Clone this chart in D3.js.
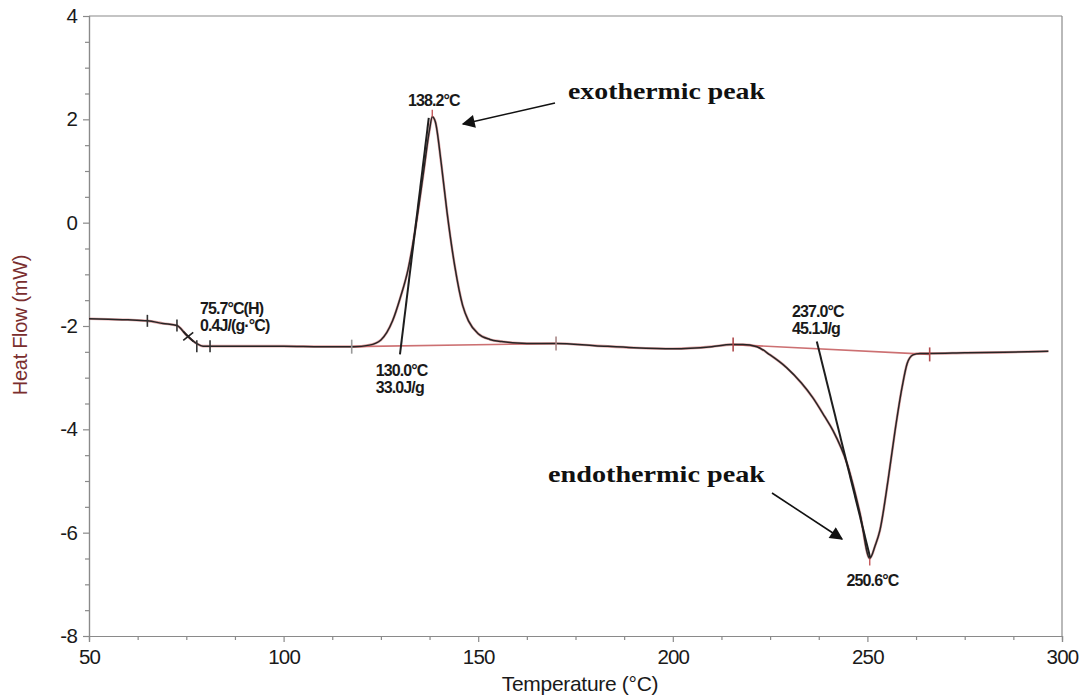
<!DOCTYPE html>
<html>
<head>
<meta charset="utf-8">
<script src="https://cdn.jsdelivr.net/npm/d3@7"></script>
<style>
  html, body { margin: 0; padding: 0; background: #fff; }
  svg { display: block; }
</style>
</head>
<body>
<svg id="chart" width="1085" height="696"></svg>
<script>
// ---- data ----
const temps = [50, 55, 60, 65, 69, 72.6, 75.2, 77.7, 79.3, 85, 100, 110, 118, 122, 125, 128, 130, 132, 134, 136, 137.5, 138.2, 139, 140.5, 142, 144, 146, 147.5, 150, 153, 156, 160, 165, 170, 180, 190, 200, 210, 215, 218, 221.6, 225, 229.3, 233, 236, 239, 241.2, 244.8, 248.1, 250.6, 252, 253.2, 255.3, 257.1, 258.9, 260.2, 261.7, 263.5, 266, 275, 285, 296.5];
const heatFlow = [-1.86, -1.87, -1.88, -1.90, -1.95, -1.99, -2.19, -2.34, -2.39, -2.39, -2.39, -2.40, -2.40, -2.37, -2.27, -1.90, -1.45, -0.90, -0.05, 1.0, 1.8, 2.05, 1.95, 1.15, 0.20, -0.85, -1.60, -1.90, -2.15, -2.26, -2.30, -2.33, -2.34, -2.34, -2.38, -2.42, -2.44, -2.40, -2.36, -2.36, -2.40, -2.56, -2.81, -3.10, -3.39, -3.75, -4.03, -4.67, -5.63, -6.50, -6.25, -5.96, -4.99, -4.03, -3.19, -2.73, -2.56, -2.53, -2.53, -2.52, -2.51, -2.49];

const xMajorTicks = [50, 100, 150, 200, 250, 300];
const yMajorTicks = [-8, -6, -4, -2, 0, 2, 4];

// integration baselines (red) [T1, HF1, T2, HF2]
const exoBaseline = [117.5, -2.40, 170, -2.34];
const endoBaseline = [215.5, -2.36, 266, -2.55];
// onset tangents [T1, HF1, T2, HF2]
const exoTangent = [129.9, -2.55, 137.3, 2.03];
const endoTangent = [237.0, -2.30, 250.7, -6.48];
// analysis limit marks (temperature, heat flow)
const glassMarks = [[65.0, -1.90], [72.6, -1.99], [77.7, -2.39], [81.1, -2.39]];
const glassPoint = [75.5, -2.2];

// data labels
const labelLines = [
  {T: 138.6, HF: 2.26, lines: ["138.2°C"], anchor: "middle"},
  {T: 123.7, HF: -2.96, lines: ["130.0°C", "33.0J/g"], anchor: "start"},
  {T: 78.5, HF: -1.76, lines: ["75.7°C(H)", "0.4J/(g·°C)"], anchor: "start"},
  {T: 230.6, HF: -1.82, lines: ["237.0°C", "45.1J/g"], anchor: "start"},
  {T: 251.3, HF: -7.03, lines: ["250.6°C"], anchor: "middle"}
];

// ---- layout ----
const svg = d3.select("#chart");
const x = d3.scaleLinear().domain([50, 300]).range([89, 1062]);
const y = d3.scaleLinear().domain([-8, 4]).range([636, 16]);

const axisColor = "#8a8a8a";
const fontNarrow = '"Liberation Sans Narrow", "Arial Narrow", "Liberation Sans", Arial, sans-serif';

// frame (top & right)
svg.append("line").attr("x1", x(50)).attr("x2", x(300)).attr("y1", y(4)).attr("y2", y(4)).attr("stroke", axisColor).attr("stroke-width", 1.2);
svg.append("line").attr("x1", x(300)).attr("x2", x(300)).attr("y1", y(4)).attr("y2", y(-8)).attr("stroke", axisColor).attr("stroke-width", 1.2);

// minor ticks
const xMinor = d3.range(50, 300.01, 12.5).filter(v => !xMajorTicks.includes(v));
const yMinor = d3.range(-8, 4.01, 0.5).filter(v => !yMajorTicks.includes(v));

const gxMinor = svg.append("g").attr("transform", `translate(0,${y(-8)})`)
  .call(d3.axisBottom(x).tickValues(xMinor).tickSize(4).tickFormat(""));
const gyMinor = svg.append("g").attr("transform", `translate(${x(50)},0)`)
  .call(d3.axisLeft(y).tickValues(yMinor).tickSize(4).tickFormat(""));

const gx = svg.append("g").attr("transform", `translate(0,${y(-8)})`)
  .call(d3.axisBottom(x).tickValues(xMajorTicks).tickSize(6).tickPadding(7).tickFormat(d => String(d)));
const gy = svg.append("g").attr("transform", `translate(${x(50)},0)`)
  .call(d3.axisLeft(y).tickValues(yMajorTicks).tickSize(6).tickPadding(6).tickFormat(d => String(d)));

[gxMinor, gyMinor, gx, gy].forEach(g => {
  g.select(".domain").attr("stroke", axisColor).attr("stroke-width", 1.2);
  g.selectAll(".tick line").attr("stroke", axisColor).attr("stroke-width", 1.2);
  g.selectAll(".tick text").attr("fill", "#1a1a1a").attr("font-size", 20.5).style("font-family", fontNarrow).attr("letter-spacing", "-0.8px");
});

// axis titles
svg.append("text").attr("x", 580).attr("y", 691).attr("text-anchor", "middle")
  .attr("font-family", fontNarrow).attr("font-size", 21).attr("letter-spacing", "-0.3px").attr("fill", "#1a1a1a")
  .text("Temperature (°C)");
svg.append("text").attr("transform", "translate(27,325) rotate(-90)").attr("text-anchor", "middle")
  .attr("font-family", fontNarrow).attr("font-size", 20).attr("letter-spacing", "-0.3px").attr("fill", "#7a2e2e")
  .text("Heat Flow (mW)");

// ---- data curve ----
const pts = temps.map((t, i) => [t, heatFlow[i]]);
const line = d3.line().x(d => x(d[0])).y(d => y(d[1])).curve(d3.curveMonotoneX);

// red baselines
const redColor = "#c4585a";
[exoBaseline, endoBaseline].forEach(b => {
  svg.append("line").attr("x1", x(b[0])).attr("y1", y(b[1])).attr("x2", x(b[2])).attr("y2", y(b[3]))
    .attr("stroke", redColor).attr("stroke-width", 1.6).attr("opacity", 0.85);
});

// red underlay curve and black curve
svg.append("path").datum(pts).attr("d", line).attr("fill", "none").attr("stroke", redColor).attr("stroke-width", 2.6).attr("opacity", 0.55);
svg.append("path").datum(pts).attr("d", line).attr("fill", "none").attr("stroke", "#262626").attr("stroke-width", 1.5);

// tangents
[exoTangent, endoTangent].forEach(b => {
  svg.append("line").attr("x1", x(b[0])).attr("y1", y(b[1])).attr("x2", x(b[2])).attr("y2", y(b[3]))
    .attr("stroke", "#1e1e1e").attr("stroke-width", 2);
});

// limit marks
function vmark(T, HF, color, h) {
  svg.append("line").attr("x1", x(T)).attr("x2", x(T)).attr("y1", y(HF) - h).attr("y2", y(HF) + h)
    .attr("stroke", color).attr("stroke-width", 1.6);
}
glassMarks.forEach(m => vmark(m[0], m[1], "#333", 6));
vmark(exoBaseline[0], exoBaseline[1], "#999", 7);
vmark(exoBaseline[2], exoBaseline[3], "#a88", 7);
vmark(endoBaseline[0], endoBaseline[1], "#b04a4c", 7);
vmark(endoBaseline[2], endoBaseline[3], "#b04a4c", 7);
// peak marks
svg.append("line").attr("x1", x(138.2)).attr("x2", x(138.2)).attr("y1", y(2.05) - 7).attr("y2", y(2.05)).attr("stroke", redColor).attr("stroke-width", 1.4);
svg.append("line").attr("x1", x(250.6)).attr("x2", x(250.6)).attr("y1", y(-6.50)).attr("y2", y(-6.50) + 7).attr("stroke", redColor).attr("stroke-width", 1.4);
// glass transition cross
const gpx = x(glassPoint[0]), gpy = y(glassPoint[1]);
svg.append("path").attr("d", `M${gpx - 5},${gpy - 5}L${gpx + 5},${gpy + 5}M${gpx - 5},${gpy + 4}L${gpx + 5},${gpy - 4}`)
  .attr("stroke", "#222").attr("stroke-width", 1.6).attr("fill", "none");

// data labels
labelLines.forEach(l => {
  const t = svg.append("text").attr("x", x(l.T)).attr("y", y(l.HF)).attr("text-anchor", l.anchor)
    .attr("font-family", fontNarrow).attr("font-size", 16).attr("font-weight", "bold")
    .attr("letter-spacing", "-0.9px").attr("fill", "#1a1a1a");
  l.lines.forEach((s, i) => t.append("tspan").attr("x", x(l.T)).attr("dy", i === 0 ? 0 : 17.5).text(s));
});

// ---- callouts ----
svg.append("defs").append("marker").attr("id", "arr").attr("viewBox", "0 0 10 10").attr("refX", 9).attr("refY", 5)
  .attr("markerWidth", 18).attr("markerHeight", 13).attr("markerUnits", "userSpaceOnUse")
  .attr("orient", "auto").append("path").attr("d", "M0,0L10,5L0,10Z").attr("fill", "#111");

const serif = '"Liberation Serif", "Times New Roman", "DejaVu Serif", serif';
svg.append("text").attr("x", 568).attr("y", 99).attr("font-family", serif).attr("font-weight", "bold")
  .attr("font-size", 24).attr("textLength", 197).attr("lengthAdjust", "spacingAndGlyphs").attr("fill", "#111").text("exothermic peak");
svg.append("text").attr("x", 548).attr("y", 482).attr("font-family", serif).attr("font-weight", "bold")
  .attr("font-size", 24).attr("textLength", 217).attr("lengthAdjust", "spacingAndGlyphs").attr("fill", "#111").text("endothermic peak");

svg.append("line").attr("x1", 555).attr("y1", 103).attr("x2", 463).attr("y2", 124)
  .attr("stroke", "#111").attr("stroke-width", 1.6).attr("marker-end", "url(#arr)");
svg.append("line").attr("x1", 772).attr("y1", 493).attr("x2", 842).attr("y2", 539)
  .attr("stroke", "#111").attr("stroke-width", 1.6).attr("marker-end", "url(#arr)");
</script>
</body>
</html>
